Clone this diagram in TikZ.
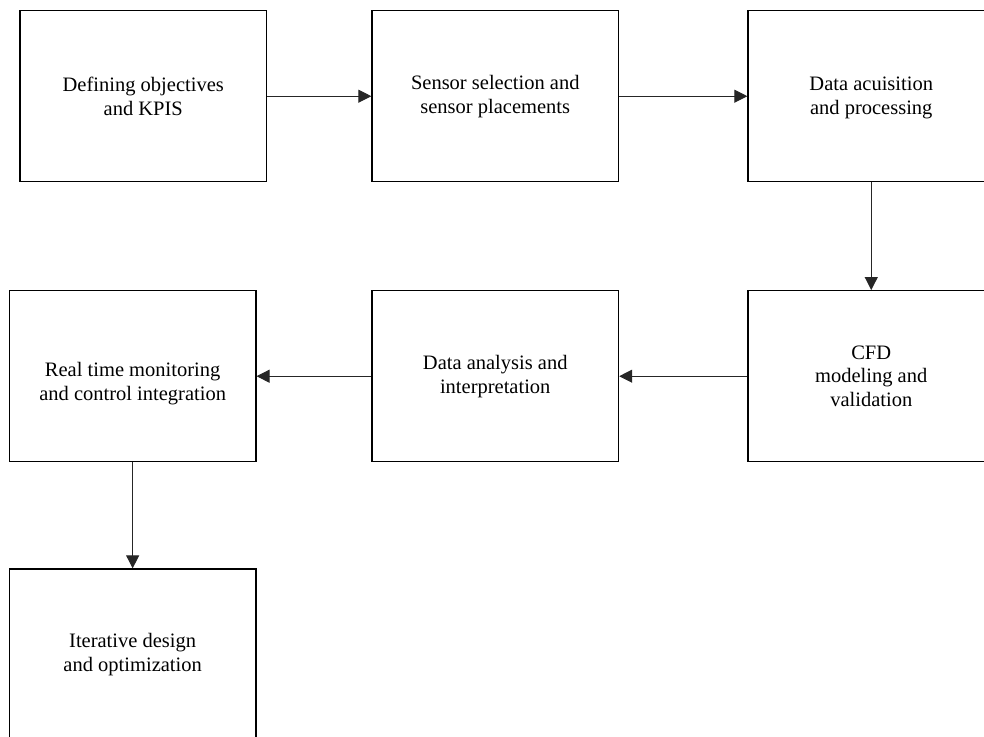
\documentclass[tikz,border=0pt]{standalone}
\usepackage{fontspec}
\setmainfont{Liberation Serif}
\usetikzlibrary{arrows.meta}
\begin{document}
\begin{tikzpicture}[x=1pt,y=-1pt,
  stepbox/.style={draw=black,line width=1.3pt,minimum width=246.5pt,minimum height=171pt,inner sep=0pt},
  txt/.style={align=center,font=\fontsize{20.5}{23.8}\selectfont,inner sep=0pt},
  conn/.style={draw=black!85,line width=1pt,-{Triangle[length=13pt,width=13pt]}}]
\useasboundingbox (0,0) rectangle (984,736);
\clip (0,0) rectangle (984,736);
\node[stepbox] (b1) at (143.25,96.2) {};
\node[stepbox] (b2) at (495.25,96.2) {};
\node[stepbox] (b3) at (871.25,96.2) {};
\node[stepbox] (b4) at (132.65,376.2) {};
\node[stepbox] (b5) at (495.25,376.2) {};
\node[stepbox] (b6) at (871.25,376.2) {};
\node[stepbox] (b7) at (132.65,654.5) {};
\node[txt] (t1) at (b1.center) {Defining objectives\\and KPIS};
\node[txt] (t2) at (b2.center) {Sensor selection and\\sensor placements};
\node[txt] (t3) at ([yshift=-2pt]b3.center) {Data acuisition\\and processing};
\node[txt] (t4) at ([yshift=-7pt]b4.center) {Real time monitoring\\and control integration};
\node[txt] (t5) at (b5.center) {Data analysis and\\interpretation};
\node[txt] (t6) at (b6.center) {CFD\\modeling and\\validation};
\node[txt] (t7) at (b7.center) {Iterative design\\and optimization};
\draw[conn] (b1) -- (b2);
\draw[conn] (b2) -- (b3);
\draw[conn] (b3) -- (b6);
\draw[conn] (b6) -- (b5);
\draw[conn] (b5) -- (b4);
\draw[conn] (b4) -- (b7);
\end{tikzpicture}
\end{document}
